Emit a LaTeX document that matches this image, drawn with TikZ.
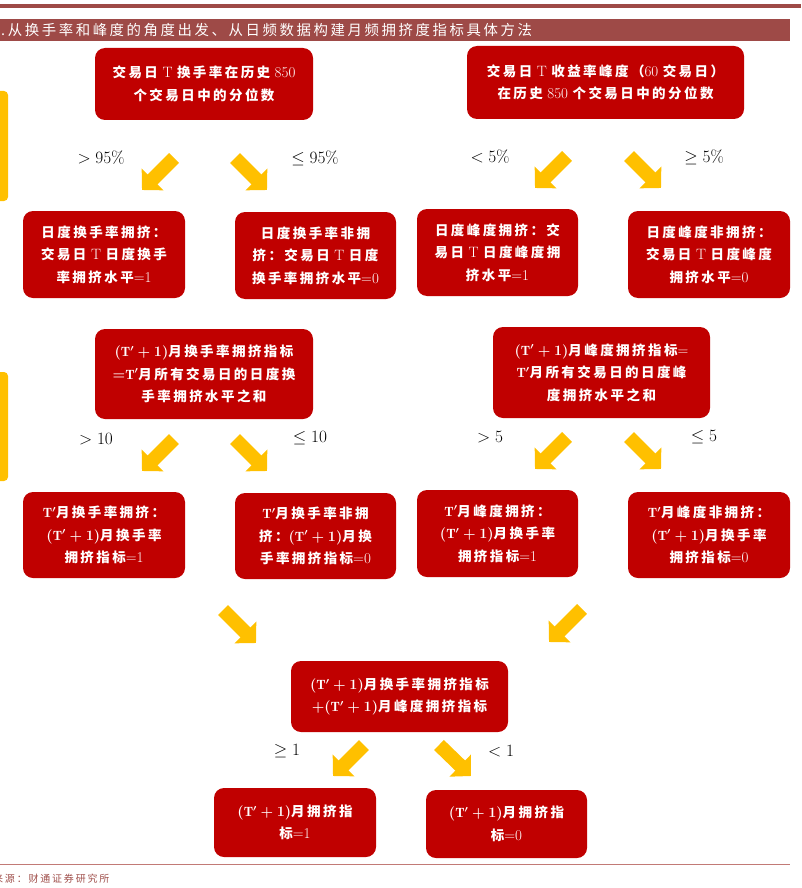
\documentclass[tikz,border=0pt]{standalone}
\usepackage{fontspec}
\newfontfamily\cjk[LetterSpace=18]{Noto Sans CJK SC}
\usetikzlibrary{arrows.meta}
\definecolor{boxred}{HTML}{C00000}
\definecolor{arrowy}{HTML}{FFC000}
\definecolor{barred}{HTML}{9E4A47}
\definecolor{lined}{HTML}{C27A76}
\definecolor{srcred}{HTML}{A0504C}
\newcommand\lt[1]{{\rmfamily\mdseries\fontsize{15}{22.5}\selectfont #1}}
\newcommand\TT{{\boldmath$(\mathrm{T}'+1)$}}
\newcommand\Tq{{\boldmath$\mathrm{T}'$}}
\newcommand\boxfont{\cjk\bfseries\fontsize{13.5}{22.5}\selectfont}
\tikzset{
  rbox/.style={fill=boxred, rounded corners=10pt, text=white, align=center, inner sep=0pt, font=\boxfont},
  bigarrow/.style={draw=arrowy, line width=14pt, -{Triangle[length=15pt,width=30pt]}},
  lbl/.style={font=\fontsize{17}{20}\selectfont, inner sep=0pt},
  sidebar/.style={fill=arrowy, rounded corners=4pt},
}
\begin{document}
\begin{tikzpicture}[x=1pt,y=-1pt]
\useasboundingbox (0,0) rectangle (801,888);
\clip (0,0) rectangle (801,888);
% header
\fill[barred] (0,4) rectangle (801,8);
\fill[barred] (0,19) rectangle (790,41);
\node[anchor=west, text=white, inner sep=0pt, font=\cjk\fontsize{14.4}{16}\selectfont] (title) at (1,30.5) {.从换手率和峰度的角度出发、从日频数据构建月频拥挤度指标具体方法};
% side bars
\fill[sidebar] (-6,91) rectangle (8,201);
\fill[sidebar] (-6,372) rectangle (8,481);
% row 1
\node[rbox, minimum width=218pt, minimum height=72pt] (A) at (204,84) {交易日\lt{ T }换手率在历史\lt{ 850}\\个交易日中的分位数};
\node[rbox, minimum width=277pt, minimum height=73pt] (B) at (605.5,82.5) {交易日\lt{ T }收益率峰度（\lt{60 }交易日）\\在历史\lt{ 850 }个交易日中的分位数};
% row 2
\node[rbox, minimum width=162pt, minimum height=87pt] (C) at (104,254.5) {日度换手率拥挤：\\交易日\lt{ T }日度换手\\率拥挤水平\lt{=1}};
\node[rbox, minimum width=161pt, minimum height=87pt] (D) at (315.5,255.5) {日度换手率非拥\\挤：交易日\lt{ T }日度\\换手率拥挤水平\lt{=0}};
\node[rbox, minimum width=161pt, minimum height=87pt] (E) at (497.5,252.5) {日度峰度拥挤：交\\易日\lt{ T }日度峰度拥\\挤水平\lt{=1}};
\node[rbox, minimum width=162pt, minimum height=87pt] (F) at (709,254.5) {日度峰度非拥挤：\\交易日\lt{ T }日度峰度\\拥挤水平\lt{=0}};
% row 3
\node[rbox, minimum width=218pt, minimum height=90pt] (G) at (204,374) {\TT 月换手率拥挤指标\\{\boldmath$=$}\Tq 月所有交易日的日度换\\手率拥挤水平之和};
\node[rbox, minimum width=217pt, minimum height=91pt] (H) at (601.5,372.5) {\TT 月峰度拥挤指标\lt{=}\\\Tq 月所有交易日的日度峰\\度拥挤水平之和};
% row 4
\node[rbox, minimum width=162pt, minimum height=86pt] (I) at (104,535) {\Tq 月换手率拥挤：\\\TT 月换手率\\拥挤指标\lt{=1}};
\node[rbox, minimum width=161pt, minimum height=86pt] (J) at (315.5,536) {\Tq 月换手率非拥\\挤：\TT 月换\\手率拥挤指标\lt{=0}};
\node[rbox, minimum width=161pt, minimum height=87pt] (K) at (497.5,533.5) {\Tq 月峰度拥挤：\\\TT 月换手率\\拥挤指标\lt{=1}};
\node[rbox, minimum width=162pt, minimum height=86pt] (L) at (709,535) {\Tq 月峰度非拥挤：\\\TT 月换手率\\拥挤指标\lt{=0}};
% merge
\node[rbox, minimum width=217pt, minimum height=71pt] (M) at (399.5,696.5) {\TT 月换手率拥挤指标\\{\boldmath$+$}\TT 月峰度拥挤指标};
\node[rbox, minimum width=162pt, minimum height=69pt] (N) at (295,822.5) {\TT 月拥挤指\\标\lt{=1}};
\node[rbox, minimum width=161pt, minimum height=68pt] (O) at (506.5,824) {\TT 月拥挤指\\标\lt{=0}};
% arrow coordinates
\coordinate (a1s) at (174,158); \coordinate (a1e) at (142,190);
\coordinate (a2s) at (235,158); \coordinate (a2e) at (267,190);
\coordinate (a3s) at (567,156); \coordinate (a3e) at (535,188);
\coordinate (a4s) at (629,156); \coordinate (a4e) at (661,188);
\coordinate (b1s) at (174,439); \coordinate (b1e) at (142,471);
\coordinate (b2s) at (235,439); \coordinate (b2e) at (267,471);
\coordinate (b3s) at (567,437); \coordinate (b3e) at (535,469);
\coordinate (b4s) at (629,437); \coordinate (b4e) at (661,469);
\coordinate (c1s) at (223,610); \coordinate (c1e) at (256,643);
\coordinate (c2s) at (582,609); \coordinate (c2e) at (549,642);
\coordinate (d1s) at (364,745); \coordinate (d1e) at (333,776);
\coordinate (d2s) at (439,745); \coordinate (d2e) at (471,776);
\foreach \p in {a1,a2,a3,a4,b1,b2,b3,b4,c1,c2,d1,d2}
  \draw[bigarrow] (\p s) -- (\p e);
% labels
\node[lbl] (l1) at (101,158) {$>95\%$};
\node[lbl] (l2) at (315,158) {$\leq 95\%$};
\node[lbl] (l3) at (490,157) {$<5\%$};
\node[lbl] (l4) at (704,157) {$\geq 5\%$};
\node[lbl] (l5) at (96,439) {$>10$};
\node[lbl] (l6) at (310,438) {$\leq 10$};
\node[lbl] (l7) at (490,437) {$>5$};
\node[lbl] (l8) at (704,437) {$\leq 5$};
\node[lbl] (l9) at (287,751) {$\geq 1$};
\node[lbl] (l10) at (501,751) {$<1$};
% footer
\draw[lined, line width=1pt] (0,864) -- (790,864);
\node[anchor=west, text=srcred, inner sep=0pt, font=\cjk\fontsize{10}{12}\selectfont] (src) at (-7,879) {来源：财通证券研究所};
\end{tikzpicture}
\end{document}
